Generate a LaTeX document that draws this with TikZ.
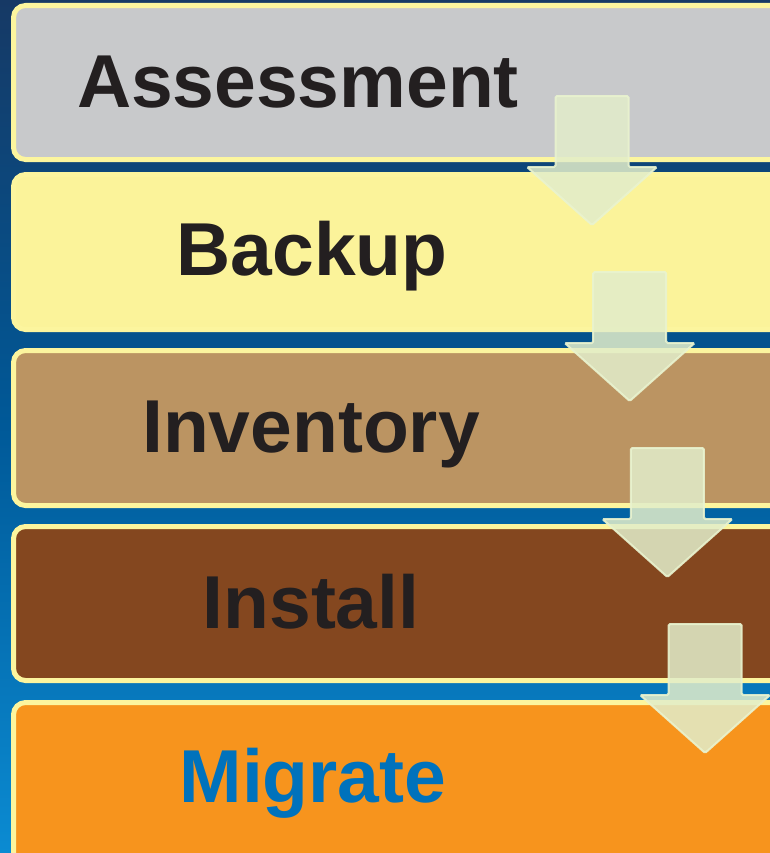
\documentclass[tikz,border=0pt]{standalone}
\usepackage{fontspec}
\setmainfont{Liberation Sans}
\definecolor{bgtop}{HTML}{163965}
\definecolor{bgmid}{HTML}{005998}
\definecolor{bgbot}{HTML}{0B8BD2}
\definecolor{rim}{HTML}{FCF59E}
\definecolor{fillA}{HTML}{C8C9CB}
\definecolor{fillB}{HTML}{FBF39A}
\definecolor{fillC}{HTML}{BB9462}
\definecolor{fillD}{HTML}{84471F}
\definecolor{fillE}{HTML}{F7941D}
\definecolor{ink}{HTML}{231F20}
\definecolor{inkblue}{HTML}{0072BC}
\definecolor{arrfill}{HTML}{E2EDCA}
\definecolor{arredge}{HTML}{E9F3CF}
\tikzset{
  stagebox/.style={draw=rim, line width=5bp, rounded corners=12bp},
  stagetext/.style={anchor=base, inner sep=0pt, font=\bfseries\fontsize{75bp}{90bp}\selectfont, text=ink},
  flowarrow/.style={fill=arrfill, fill opacity=0.86, draw=arredge, draw opacity=0.9, line width=2bp, rounded corners=1.5bp}
}
\begin{document}
\begin{tikzpicture}[x=1bp,y=-1bp]
\useasboundingbox (0,0) rectangle (770,853);
\clip (0,0) rectangle (770,853);
\shade[top color=bgtop, bottom color=bgbot, middle color=bgmid] (0,0) rectangle (770,853);
% boxes
\path[stagebox, fill=fillA] (13.5,5.5) rectangle (820,159.5);
\path[stagebox, fill=fillB] (13.5,174.5) rectangle (820,329.5);
\path[stagebox, fill=fillC] (13.5,350.5) rectangle (820,505.5);
\path[stagebox, fill=fillD] (13.5,526.5) rectangle (820,680.5);
\path[stagebox, fill=fillE] (13.5,702.5) rectangle (820,920);
% labels
\node[stagetext] (t1) at (298,107) {Assessment};
\node[stagetext] (t2) at (312,275) {Backup};
\node[stagetext] (t3) at (311,452) {Inventory};
\node[stagetext] (t4) at (311,628) {Install};
\node[stagetext, text=inkblue] (t5) at (313,802) {Migrate};
% arrows
\foreach \k in {0,1,2,3}{
  \pgfmathsetmacro{\cx}{592+37.7*\k}
  \pgfmathsetmacro{\ty}{96+176*\k}
  \draw[flowarrow]
    (\cx-36.5,\ty) -- (\cx+36.5,\ty) -- (\cx+36.5,\ty+71) -- (\cx+65,\ty+71)
    -- (\cx,\ty+129) -- (\cx-65,\ty+71) -- (\cx-36.5,\ty+71) -- cycle;
}
\end{tikzpicture}
\end{document}
